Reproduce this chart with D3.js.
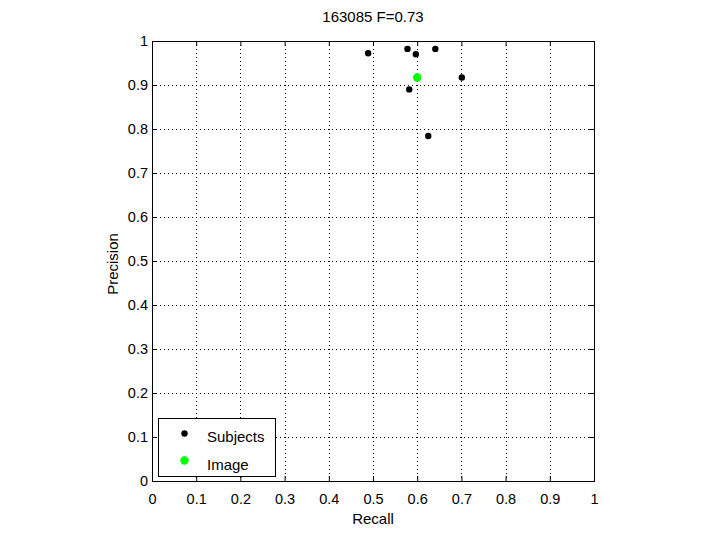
<!DOCTYPE html>
<html>
<head>
<meta charset="utf-8">
<script src="https://cdn.jsdelivr.net/npm/d3@7"></script>
<style>
body { margin: 0; background: #fff; }
svg { display: block; font-family: "Liberation Sans", Arial, sans-serif; }
</style>
</head>
<body>
<script>
var width = 720, height = 540;

// data
var subjRecall    = [0.489, 0.578, 0.597, 0.641, 0.701, 0.582, 0.625];
var subjPrecision = [0.972, 0.982, 0.970, 0.982, 0.917, 0.890, 0.784];
var imageRecall    = [0.600];
var imagePrecision = [0.917];
var tickValues = [0, 0.1, 0.2, 0.3, 0.4, 0.5, 0.6, 0.7, 0.8, 0.9, 1];
var title = "163085 F=0.73";

var plotL = 152, plotR = 594, plotT = 41, plotB = 481;

var x = d3.scaleLinear().domain([0, 1]).range([plotL, plotR]);
var y = d3.scaleLinear().domain([0, 1]).range([plotB, plotT]);

var svg = d3.select("body").append("svg")
    .attr("width", width)
    .attr("height", height);

svg.append("rect")
    .attr("width", width).attr("height", height)
    .style("fill", "white");

// grid
var grid = svg.append("g")
    .style("stroke", "black")
    .style("stroke-width", 1)
    .style("stroke-dasharray", "1,3");

grid.selectAll(".gx").data(tickValues.slice(1, -1)).enter().append("line")
    .attr("x1", function(d){ return Math.round(x(d)) + 0.5; })
    .attr("x2", function(d){ return Math.round(x(d)) + 0.5; })
    .attr("y1", plotT).attr("y2", plotB);

grid.selectAll(".gy").data(tickValues.slice(1, -1)).enter().append("line")
    .attr("y1", function(d){ return Math.round(y(d)) + 0.5; })
    .attr("y2", function(d){ return Math.round(y(d)) + 0.5; })
    .attr("x1", plotL).attr("x2", plotR);

// axes, MATLAB style ticks pointing inward
var xAxis = d3.axisBottom(x).tickValues(tickValues).tickSizeInner(-5).tickSizeOuter(0)
    .tickPadding(13).tickFormat(d3.format("~g"));
var yAxis = d3.axisLeft(y).tickValues(tickValues).tickSizeInner(-5).tickSizeOuter(0)
    .tickPadding(4).tickFormat(d3.format("~g"));
var xAxisTop = d3.axisTop(x).tickValues(tickValues).tickSizeInner(-5).tickSizeOuter(0).tickFormat("");
var yAxisRight = d3.axisRight(y).tickValues(tickValues).tickSizeInner(-5).tickSizeOuter(0).tickFormat("");

function styleAxis(g) {
    g.select(".domain").remove();
    g.selectAll("line").style("stroke", "black");
    g.selectAll("text").style("font-size", "14.5px").style("fill", "black")
        .style("font-family", "'Liberation Sans', Arial, sans-serif");
}

svg.append("g").attr("transform", "translate(0," + plotB + ")").call(xAxis).call(styleAxis);
svg.append("g").attr("transform", "translate(" + plotL + ",0)").call(yAxis).call(styleAxis);
svg.append("g").attr("transform", "translate(0," + plotT + ")").call(xAxisTop).call(styleAxis);
svg.append("g").attr("transform", "translate(" + plotR + ",0)").call(yAxisRight).call(styleAxis);

svg.append("rect")
    .attr("x", plotL + 0.5).attr("y", plotT + 0.5)
    .attr("width", plotR - plotL).attr("height", plotB - plotT)
    .style("fill", "none").style("stroke", "black").style("stroke-width", 1);

// points
svg.selectAll(".subj").data(subjRecall).enter().append("circle")
    .attr("cx", function(d){ return x(d); })
    .attr("cy", function(d, i){ return y(subjPrecision[i]); })
    .attr("r", 3.2)
    .style("fill", "black");

svg.selectAll(".img").data(imageRecall).enter().append("circle")
    .attr("cx", function(d){ return x(d); })
    .attr("cy", function(d, i){ return y(imagePrecision[i]); })
    .attr("r", 4.2)
    .style("fill", "#00ff00");

// legend
var leg = svg.append("g");
leg.append("rect")
    .attr("x", 158.5).attr("y", 418.5).attr("width", 117).attr("height", 58)
    .style("fill", "white").style("stroke", "black");
leg.append("circle").attr("cx", 184.5).attr("cy", 433.5).attr("r", 3.2).style("fill", "black");
leg.append("circle").attr("cx", 184.5).attr("cy", 460.5).attr("r", 4.2).style("fill", "#00ff00");
leg.append("text").attr("x", 207).attr("y", 442).text("Subjects")
    .style("font-size", "15px");
leg.append("text").attr("x", 207).attr("y", 469.5).text("Image")
    .style("font-size", "15px");

// labels
svg.append("text")
    .attr("x", (plotL + plotR) / 2).attr("y", 22)
    .attr("text-anchor", "middle")
    .style("font-size", "15px")
    .text(title);

svg.append("text")
    .attr("x", (plotL + plotR) / 2).attr("y", 524)
    .attr("text-anchor", "middle")
    .style("font-size", "15px")
    .text("Recall");

svg.append("text")
    .attr("transform", "translate(118," + ((plotT + plotB) / 2 + 3) + ") rotate(-90)")
    .attr("text-anchor", "middle")
    .style("font-size", "15px")
    .text("Precision");
</script>
</body>
</html>
